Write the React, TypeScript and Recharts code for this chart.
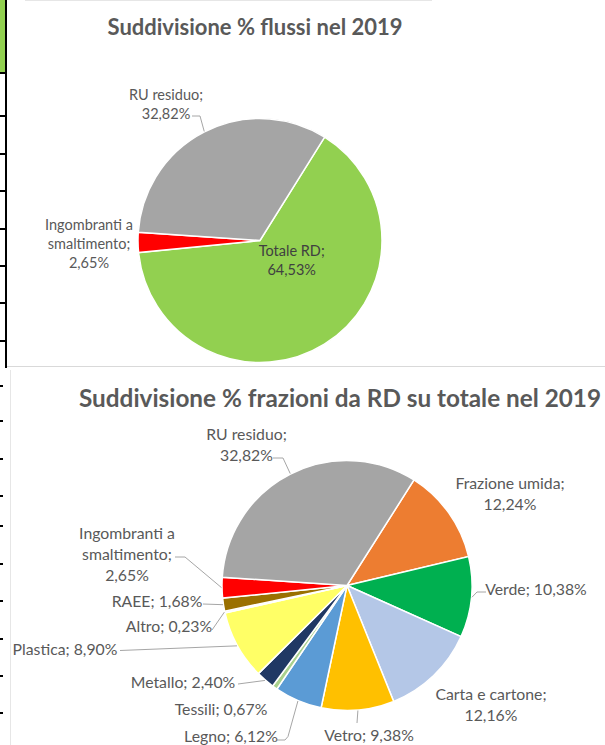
import React from 'react';
import { PieChart, Pie, Cell } from 'recharts';

// ---------- Data ----------
const flussiNames = ['Totale RD', 'Ingombranti a smaltimento', 'RU residuo'];
const flussiValues = [64.53, 2.65, 32.82];
const flussiColors = ['#92D050', '#FF0000', '#A5A5A5'];

const frazioniNames = [
  'Frazione umida',
  'Verde',
  'Carta e cartone',
  'Vetro',
  'Legno',
  'Tessili',
  'Metallo',
  'Plastica',
  'Altro',
  'RAEE',
  'Ingombranti a smaltimento',
  'RU residuo',
];
const frazioniValues = [12.24, 10.38, 12.16, 9.38, 6.12, 0.67, 2.4, 8.9, 0.23, 1.68, 2.65, 32.82];
const frazioniColors = [
  '#ED7D31',
  '#00B050',
  '#B4C7E7',
  '#FFC000',
  '#5B9BD5',
  '#A9D18E',
  '#203864',
  '#FFFF66',
  '#F4F4F4',
  '#9A7000',
  '#FF0000',
  '#A5A5A5',
];

const title1 = 'Suddivisione % flussi nel 2019';
const title2 = 'Suddivisione % frazioni da RD su totale nel 2019';

const flussiData = flussiNames.map((name, i) => ({ name, value: flussiValues[i] }));
const frazioniData = frazioniNames.map((name, i) => ({ name, value: frazioniValues[i] }));

// ---------- Label layout (offsets relative to pie centre) ----------
type Layout = { dx: number; dy: number; wrap: 1 | 2 | 3; leader?: number[][]; color?: string };

const layout1: Record<string, Layout> = {
  'RU residuo': { dx: -94, dy: -146.5, wrap: 2, leader: [[-60, -124.5], [-68, -124.5]] },
  'Ingombranti a smaltimento': { dx: -171, dy: -16.5, wrap: 3 },
  'Totale RD': { dx: 31.7, dy: 10.2, wrap: 2, color: '#404040' },
};

const layout2: Record<string, Layout> = {
  'RU residuo': { dx: -100.5, dy: -152.5, wrap: 2, leader: [[-64, -127.5], [-74, -127.5]] },
  'Frazione umida': { dx: 163, dy: -103.5, wrap: 2 },
  Verde: { dx: 189, dy: 2.5, wrap: 1, leader: [[130, 6.5], [139, 6.5]] },
  'Carta e cartone': { dx: 144, dy: 107.5, wrap: 2 },
  Vetro: { dx: 22, dy: 148.5, wrap: 1, leader: [[10, 137.5]] },
  Legno: { dx: -116, dy: 149.5, wrap: 1, leader: [[-59, 151], [-62, 154.5], [-70, 154.5]] },
  Tessili: { dx: -126, dy: 122.5, wrap: 1 },
  Metallo: { dx: -164, dy: 95.5, wrap: 1, leader: [[-109, 98.5]] },
  Plastica: { dx: -282, dy: 62.5, wrap: 1, leader: [[-227, 65]] },
  Altro: { dx: -178, dy: 39.5, wrap: 1, leader: [[-135, 44.5]] },
  RAEE: { dx: -190, dy: 14.5, wrap: 1, leader: [[-144, 18.5]] },
  'Ingombranti a smaltimento': { dx: -220, dy: -53.5, wrap: 3, leader: [[-162, -28.5], [-172, -28.5]] },
};

const FONT = 'Lato, "Open Sans", sans-serif';
const TEXT_COLOR = '#595959';
const RAD = Math.PI / 180;

const fmt = (v: number) => v.toFixed(2).replace('.', ',') + '%';

function wrapLines(name: string, value: number, mode: 1 | 2 | 3): string[] {
  const pct = fmt(value);
  if (mode === 1) return [`${name}; ${pct}`];
  if (mode === 2) return [`${name};`, pct];
  const words = name.split(' ');
  return [words.slice(0, -1).join(' '), words[words.length - 1] + ';', pct];
}

function makeLabel(names: string[], values: number[], layouts: Record<string, Layout>, fontSize: number, lineH: number) {
  return (props: any) => {
    const { cx, cy, midAngle, outerRadius, index } = props;
    const name = names[index];
    const L = layouts[name];
    if (!L) return null;
    const lines = wrapLines(name, values[index], L.wrap);
    const ex = cx + (outerRadius + 0.5) * Math.cos(-midAngle * RAD);
    const ey = cy + (outerRadius + 0.5) * Math.sin(-midAngle * RAD);
    const pts = L.leader ? [[ex, ey], ...L.leader.map(([x, y]) => [cx + x, cy + y])] : null;
    return (
      <g key={`lbl-${index}`}>
        {pts && (
          <polyline
            points={pts.map((p) => p.join(',')).join(' ')}
            fill="none"
            stroke="#A6A6A6"
            strokeWidth={1}
          />
        )}
        {lines.map((t, i) => (
          <text
            key={i}
            x={cx + L.dx}
            y={cy + L.dy + i * lineH}
            textAnchor="middle"
            dominantBaseline="central"
            fontFamily={FONT}
            fontSize={fontSize}
            fill={L.color || TEXT_COLOR}
          >
            {t}
          </text>
        ))}
      </g>
    );
  };
}

const abs = (s: React.CSSProperties): React.CSSProperties => ({ position: 'absolute', ...s });

export default function App() {
  const ticks1 = [72, 115, 153, 190, 228, 265, 302, 340];
  const ticks2 = [385, 420, 458, 495, 525, 563, 600, 638, 675, 712];
  return (
    <div style={abs({ left: 0, top: 0, width: 605, height: 745, overflow: 'hidden', background: '#fff' })}>
      {/* Chart 1 */}
      <div style={abs({ left: 0, top: 0, width: 605, height: 368 })}>
        <div style={abs({ left: 25, top: 0, width: 407, height: 1, background: '#E6E6E6' })} />
        <div
          style={abs({
            left: 0,
            top: 12,
            width: 510,
            height: 30,
            lineHeight: '30px',
            textAlign: 'center',
            fontFamily: FONT,
            fontWeight: 700,
            fontSize: 22,
            color: TEXT_COLOR,
            whiteSpace: 'nowrap',
          })}
        >
          {title1}
        </div>
        <PieChart width={605} height={368} style={{ position: 'absolute', left: 0, top: 0 }}>
          <Pie
            data={flussiData}
            dataKey="value"
            nameKey="name"
            cx={255}
            cy={235.5}
            outerRadius={122}
            startAngle={58}
            endAngle={-302}
            stroke="#FFFFFF"
            strokeWidth={1.5}
            isAnimationActive={false}
            labelLine={false}
            label={makeLabel(flussiNames, flussiValues, layout1, 14.5, 19)}
          >
            {flussiData.map((d, i) => (
              <Cell key={d.name} fill={flussiColors[i]} />
            ))}
          </Pie>
        </PieChart>
        <div style={abs({ left: 6, top: 366, width: 599, height: 1, background: '#D9D9D9' })} />
      </div>

      {/* Chart 2 */}
      <div style={abs({ left: 0, top: 368, width: 605, height: 377 })}>
        <div style={abs({ left: 10, top: 2, width: 1, height: 375, background: '#E6E6E6' })} />
        <div
          style={abs({
            left: 79,
            top: 15,
            height: 30,
            lineHeight: '30px',
            fontFamily: FONT,
            fontWeight: 700,
            fontSize: 24.3,
            color: TEXT_COLOR,
            whiteSpace: 'nowrap',
          })}
        >
          {title2}
        </div>
        <PieChart width={605} height={377} style={{ position: 'absolute', left: 0, top: 0 }}>
          <Pie
            data={frazioniData}
            dataKey="value"
            nameKey="name"
            cx={342}
            cy={212.5}
            outerRadius={125}
            startAngle={57.6}
            endAngle={-302.4}
            stroke="#FFFFFF"
            strokeWidth={1.5}
            isAnimationActive={false}
            labelLine={false}
            label={makeLabel(frazioniNames, frazioniValues, layout2, 15.8, 21)}
          >
            {frazioniData.map((d, i) => (
              <Cell key={d.name} fill={frazioniColors[i]} />
            ))}
          </Pie>
        </PieChart>
      </div>

      {/* table border fragments at the left edge */}
      <div style={abs({ left: 0, top: 0, width: 5, height: 72, background: '#92D050' })} />
      <div style={abs({ left: 5, top: 0, width: 2, height: 368, background: '#000' })} />
      {ticks1.map((y) => (
        <div key={`t1-${y}`} style={abs({ left: 0, top: y, width: 6, height: 2, background: '#000' })} />
      ))}
      {ticks2.map((y) => (
        <div key={`t2-${y}`} style={abs({ left: 0, top: y, width: 3, height: 2, background: '#000' })} />
      ))}
    </div>
  );
}
